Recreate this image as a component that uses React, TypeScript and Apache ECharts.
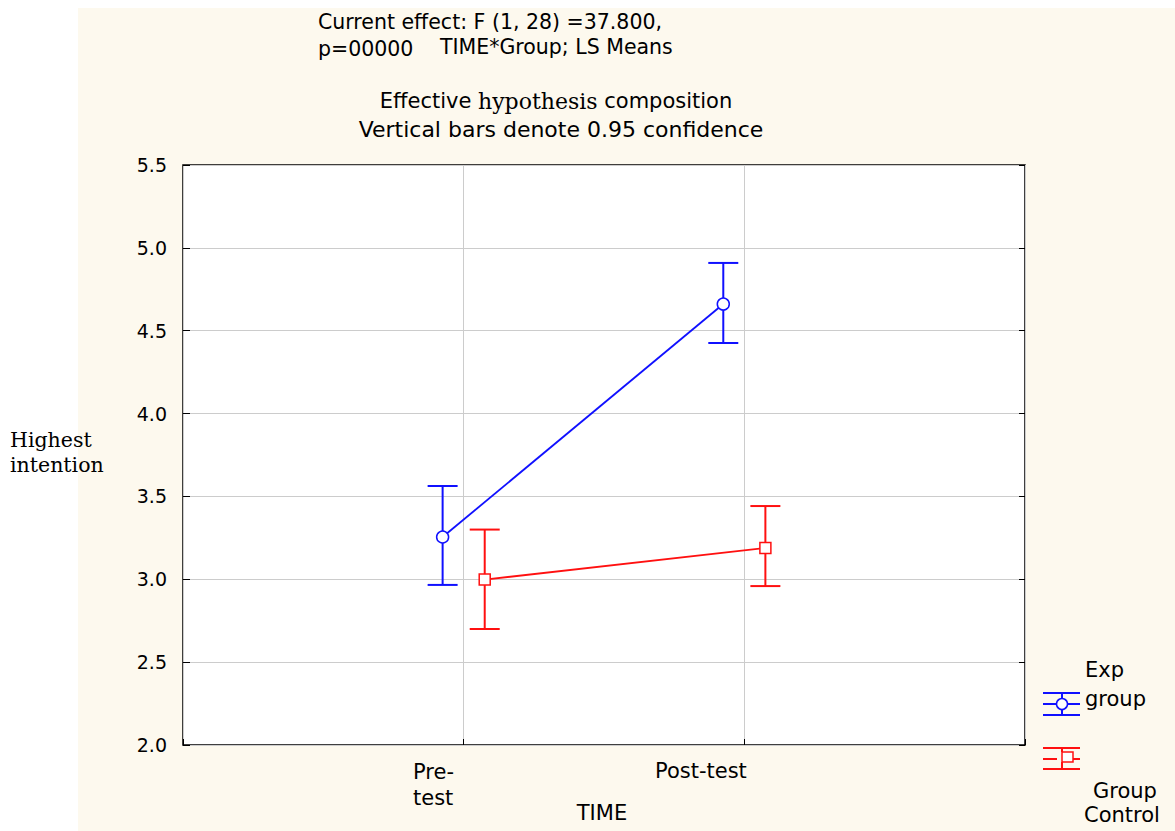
import React, { useEffect, useRef } from "react";
import * as echarts from "echarts";

const timePoints = ["Pre-test", "Post-test"];
const expMean = [3.255, 4.661];
const expLow = [2.966, 4.426];
const expHigh = [3.563, 4.909];
const ctrlMean = [2.998, 3.189];
const ctrlLow = [2.7, 2.959];
const ctrlHigh = [3.3, 3.442];
const yTicks = [2.0, 2.5, 3.0, 3.5, 4.0, 4.5, 5.0, 5.5];

const BLUE = "#1010ff";
const RED = "#ff1010";
const SANS = "'DejaVu Sans', 'Noto Sans', sans-serif";
const SERIF = "'DejaVu Serif', 'Liberation Serif', serif";
const FS = 21;
const OFFSET = 0.075;

function errorBarSeries(name: string, color: string, lows: number[], highs: number[], shift: number) {
  const data = lows.map((lo, i) => [i + 1 + shift, lo, highs[i]]);
  return {
    type: "custom",
    name,
    z: 2,
    data,
    renderItem: (params: any, api: any) => {
      const x = api.value(0);
      const lo = api.coord([x, api.value(1)]);
      const hi = api.coord([x, api.value(2)]);
      const half = 15;
      const style = { stroke: color, lineWidth: 2 };
      return {
        type: "group",
        children: [
          { type: "line", shape: { x1: lo[0], y1: lo[1], x2: hi[0], y2: hi[1] }, style },
          { type: "line", shape: { x1: lo[0] - half, y1: lo[1], x2: lo[0] + half, y2: lo[1] }, style },
          { type: "line", shape: { x1: hi[0] - half, y1: hi[1], x2: hi[0] + half, y2: hi[1] }, style },
        ],
      };
    },
  };
}

function txt(text: string, x: number, y: number, extra: any = {}) {
  return {
    type: "text",
    x,
    y,
    style: { text, font: `${FS}px ${SANS}`, fill: "#000", verticalAlign: "middle", ...extra },
  };
}

export default function App() {
  const ref = useRef<HTMLDivElement>(null);
  useEffect(() => {
    document.body.style.margin = "0";
    const chart = echarts.init(ref.current!, null, { renderer: "svg" });
    const option: any = {
      animation: false,
      backgroundColor: "#ffffff",
      grid: {
        left: 183,
        top: 165,
        width: 842,
        height: 580,
        show: true,
        backgroundColor: "#ffffff",
        borderColor: "#000000",
        borderWidth: 1.5,
      },
      xAxis: {
        type: "value",
        min: 0,
        max: 3,
        interval: 1,
        axisLine: { show: false },
        axisTick: { show: true, inside: true, length: 6, lineStyle: { color: "#000" } },
        axisLabel: { show: false },
        splitLine: { show: true, lineStyle: { color: "#cccccc", width: 1 } },
      },
      yAxis: [
        {
          type: "value",
          min: 2,
          max: 5.5,
          interval: 0.5,
          axisLine: { show: false },
          axisTick: { show: true, inside: true, length: 7, lineStyle: { color: "#000" } },
          axisLabel: {
            color: "#000",
            fontSize: 19,
            fontFamily: SANS,
            margin: 16,
            formatter: (v: number) => (yTicks.includes(v) ? v.toFixed(1) : ""),
          },
          splitLine: { show: true, lineStyle: { color: "#cccccc", width: 1 } },
        },
        {
          type: "value",
          position: "right",
          min: 2,
          max: 5.5,
          interval: 0.5,
          axisLine: { show: false },
          axisTick: { show: true, inside: true, length: 6, lineStyle: { color: "#000" } },
          axisLabel: { show: false },
          splitLine: { show: false },
        },
      ],
      series: [
        errorBarSeries("Exp CI", BLUE, expLow, expHigh, -OFFSET),
        errorBarSeries("Control CI", RED, ctrlLow, ctrlHigh, OFFSET),
        {
          type: "line",
          name: "Exp group",
          z: 3,
          data: expMean.map((v, i) => [i + 1 - OFFSET, v]),
          symbol: "circle",
          symbolSize: 12,
          showSymbol: true,
          lineStyle: { color: BLUE, width: 1.8 },
          itemStyle: { color: "#ffffff", borderColor: BLUE, borderWidth: 1.5 },
        },
        {
          type: "line",
          name: "Group Control",
          z: 3,
          data: ctrlMean.map((v, i) => [i + 1 + OFFSET, v]),
          symbol: "rect",
          symbolSize: 11,
          showSymbol: true,
          lineStyle: { color: RED, width: 1.8 },
          itemStyle: { color: "#ffffff", borderColor: RED, borderWidth: 1.5 },
        },
      ],
      graphic: [
        { type: "rect", z: -10, silent: true, shape: { x: 78, y: 8, width: 1097, height: 823 }, style: { fill: "#fdf9ee" } },
        txt("Current effect: F (1, 28) =37.800,", 318, 22, { font: `20.5px ${SANS}` }),
        txt("p=00000", 318, 49, { font: `20.5px ${SANS}` }),
        txt("TIME*Group; LS Means", 440, 47, { font: `20.5px ${SANS}` }),
        {
          type: "text",
          x: 556,
          y: 101,
          style: {
            text: "{a|Effective }{b|hypothesis}{a| composition}",
            align: "center",
            verticalAlign: "middle",
            rich: {
              a: { font: `${FS}px ${SANS}`, fill: "#000" },
              b: { font: `22px ${SERIF}`, fill: "#000" },
            },
          },
        },
        txt("Vertical bars denote 0.95 confidence", 561, 129, { align: "center", font: `22px ${SANS}` }),
        { type: "text", x: 10, y: 452, style: { text: "Highest\nintention", lineHeight: 25, verticalAlign: "middle", font: `20.5px ${SERIF}`, fill: "#000" } },
        txt("Pre-", 413, 772),
        txt("test", 413, 798),
        txt(timePoints[1], 655, 771),
        txt("TIME", 602, 813, { align: "center" }),
        // legend: Exp group
        txt("Exp", 1085, 670),
        txt("group", 1085, 699),
        { type: "line", shape: { x1: 1043, y1: 693, x2: 1080, y2: 693 }, style: { stroke: BLUE, lineWidth: 2 } },
        { type: "line", shape: { x1: 1043, y1: 704, x2: 1080, y2: 704 }, style: { stroke: BLUE, lineWidth: 2 } },
        { type: "line", shape: { x1: 1043, y1: 715, x2: 1080, y2: 715 }, style: { stroke: BLUE, lineWidth: 2 } },
        { type: "line", shape: { x1: 1062, y1: 693, x2: 1062, y2: 715 }, style: { stroke: BLUE, lineWidth: 2 } },
        { type: "circle", shape: { cx: 1062, cy: 704, r: 5.5 }, style: { fill: "#fff", stroke: BLUE, lineWidth: 1.5 } },
        // legend: Group Control
        { type: "line", shape: { x1: 1043, y1: 748, x2: 1080, y2: 748 }, style: { stroke: RED, lineWidth: 2 } },
        { type: "line", shape: { x1: 1043, y1: 759, x2: 1057, y2: 759 }, style: { stroke: RED, lineWidth: 2 } },
        { type: "line", shape: { x1: 1073, y1: 759, x2: 1080, y2: 759 }, style: { stroke: RED, lineWidth: 2 } },
        { type: "line", shape: { x1: 1043, y1: 769, x2: 1080, y2: 769 }, style: { stroke: RED, lineWidth: 2 } },
        { type: "line", shape: { x1: 1062, y1: 748, x2: 1062, y2: 752 }, style: { stroke: RED, lineWidth: 2 } },
        { type: "line", shape: { x1: 1062, y1: 762, x2: 1062, y2: 769 }, style: { stroke: RED, lineWidth: 2 } },
        { type: "rect", shape: { x: 1062, y: 752, width: 11, height: 10 }, style: { fill: "#fff", stroke: RED, lineWidth: 1.5 } },
        txt("Group", 1093, 791),
        txt("Control", 1084, 815),
      ],
    };
    chart.setOption(option);
    return () => chart.dispose();
  }, []);
  return <div ref={ref} style={{ width: 1175, height: 831 }} />;
}
